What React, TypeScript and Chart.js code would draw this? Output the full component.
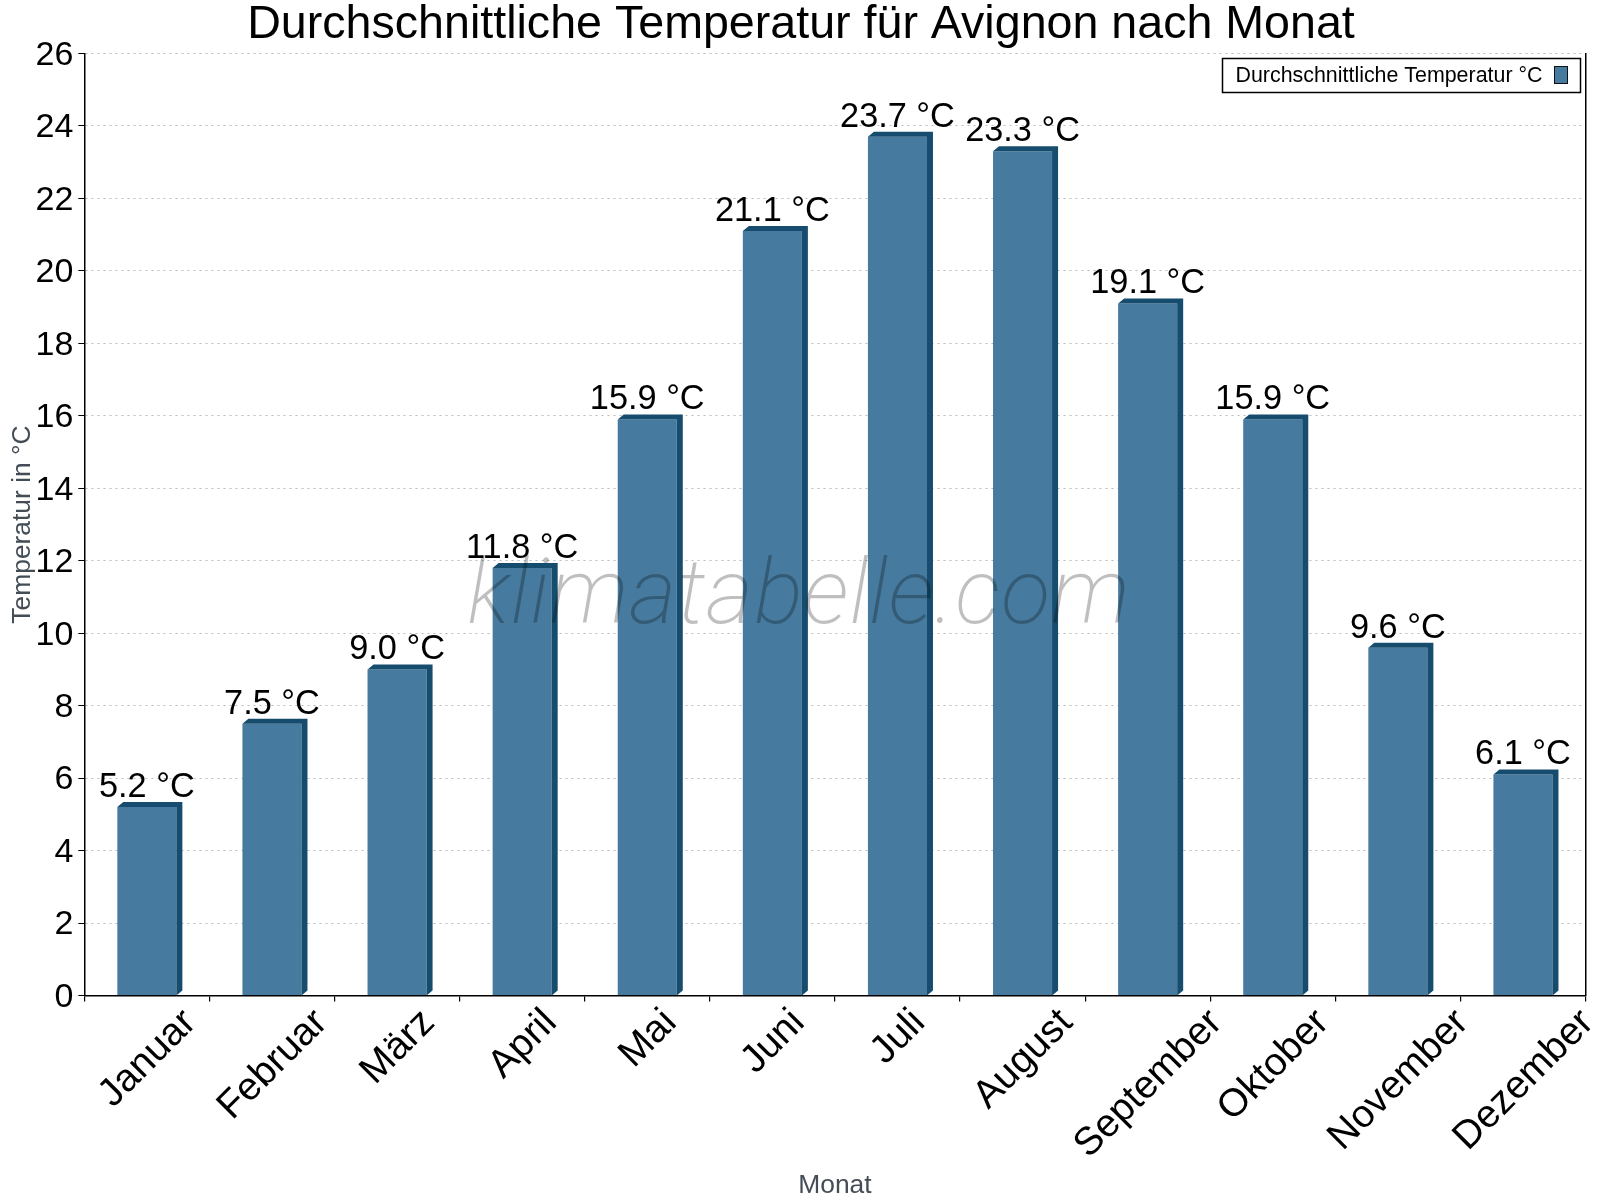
import { useEffect, useRef } from 'react';
import { Chart, registerables } from 'chart.js';

Chart.register(...registerables);

const months = ['Januar', 'Februar', 'März', 'April', 'Mai', 'Juni', 'Juli', 'August', 'September', 'Oktober', 'November', 'Dezember'];
const temperatures = [5.2, 7.5, 9.0, 11.8, 15.9, 21.1, 23.7, 23.3, 19.1, 15.9, 9.6, 6.1];
const seriesName = 'Durchschnittliche Temperatur °C';
const chartTitle = 'Durchschnittliche Temperatur für Avignon nach Monat';
const watermark = 'klimatabelle.com';

const FONT = '"Liberation Sans", Arial, sans-serif';
const FACE = '#467a9e';
const DARK = '#164c6e';
const DEPTH_X = 6;
const DEPTH_Y = 5;

// 3d sides of the bars, drawn after the bars themselves
const depthPlugin = {
  id: 'depth',
  afterDatasetsDraw(chart: any) {
    const { ctx } = chart;
    const base = chart.scales.y.getPixelForValue(0);
    ctx.save();
    ctx.fillStyle = DARK;
    chart.getDatasetMeta(0).data.forEach((bar: any) => {
      const left = bar.x - bar.width / 2;
      const right = bar.x + bar.width / 2;
      ctx.beginPath();
      ctx.moveTo(left, bar.y);
      ctx.lineTo(left + DEPTH_X, bar.y - DEPTH_Y);
      ctx.lineTo(right + DEPTH_X, bar.y - DEPTH_Y);
      ctx.lineTo(right + DEPTH_X, base - DEPTH_Y);
      ctx.lineTo(right, base);
      ctx.lineTo(right, bar.y);
      ctx.closePath();
      ctx.fill();
    });
    ctx.restore();
  },
};

const labelsPlugin = {
  id: 'labels',
  afterDraw(chart: any) {
    const { ctx, scales } = chart;
    ctx.save();
    ctx.textAlign = 'center';

    ctx.font = `46.6px ${FONT}`;
    ctx.fillStyle = '#000';
    ctx.textBaseline = 'alphabetic';
    ctx.fillText(chartTitle, 801, 38);

    // watermark goes over the bars
    ctx.font = `italic 200 91px Roboto, ${FONT}`;
    ctx.letterSpacing = '0.9px';
    ctx.fillStyle = 'rgba(0,0,0,0.25)';
    ctx.fillText(watermark, 799, 623);
    ctx.letterSpacing = '0px';

    // value labels
    ctx.font = `34.3px ${FONT}`;
    ctx.fillStyle = '#000';
    chart.getDatasetMeta(0).data.forEach((bar: any, i: number) => {
      ctx.fillText(`${temperatures[i].toFixed(1)} °C`, bar.x, bar.y - 10);
    });

    // month labels, centred under their category, top edge lined up
    ctx.font = `39px ${FONT}`;
    ctx.textBaseline = 'middle';
    months.forEach((m, i) => {
      const len = ctx.measureText(m).width;
      const cy = 1006 + ((len + 30) * Math.SQRT1_2) / 2;
      ctx.save();
      ctx.translate(scales.x.getPixelForValue(i) + 1, cy);
      ctx.rotate(-Math.PI / 4);
      ctx.fillText(m, 0, 0);
      ctx.restore();
    });

    // legend box: text first, swatch on the right
    ctx.fillStyle = '#fff';
    ctx.strokeStyle = '#000';
    ctx.lineWidth = 1.5;
    ctx.fillRect(1222.5, 58.5, 358, 34);
    ctx.strokeRect(1222.5, 58.5, 358, 34);
    ctx.fillStyle = '#000';
    ctx.font = `21.4px ${FONT}`;
    ctx.textAlign = 'left';
    ctx.textBaseline = 'alphabetic';
    ctx.fillText(seriesName, 1235.5, 82);
    ctx.fillStyle = FACE;
    ctx.strokeStyle = '#111';
    ctx.lineWidth = 1;
    ctx.fillRect(1554.5, 66.5, 13, 17);
    ctx.strokeRect(1554.5, 66.5, 13, 17);
    ctx.restore();
  },
};

export default function App() {
  const canvasRef = useRef<HTMLCanvasElement>(null);

  useEffect(() => {
    document.body.style.margin = '0';
    const ctx = canvasRef.current?.getContext('2d');
    if (!ctx) return;
    const chart = new Chart(ctx, {
      type: 'bar',
      data: {
        labels: months,
        datasets: [{ label: seriesName, data: temperatures, backgroundColor: FACE, barPercentage: 0.472, categoryPercentage: 1 }],
      },
      options: {
        animation: false,
        responsive: false,
        devicePixelRatio: 1,
        layout: { padding: { left: 7, right: 14.5, top: 53.5, bottom: 0 } },
        plugins: {
          title: { display: false },
          tooltip: { enabled: false },
          legend: { display: false },
        },
        scales: {
          x: {
            afterFit: (s: any) => { s.height = 204.5; },
            grid: { drawOnChartArea: false, color: '#000', tickLength: 6, lineWidth: 1.2 },
            border: { color: '#000', width: 1.5 },
            ticks: { display: false },
            title: { display: true, text: 'Monat', color: '#444c56', font: { family: FONT, size: 26.4 }, padding: { top: 0, bottom: -2 } },
          },
          y: {
            min: 0,
            max: 26,
            afterFit: (s: any) => { s.width = 77.3; },
            grid: { color: '#bbbbbb', lineWidth: 1, tickColor: '#000', tickLength: 6, tickBorderDash: [] },
            border: { color: '#000', width: 1.5, dash: [2, 4] },
            ticks: { stepSize: 2, color: '#000', padding: 5, labelOffset: 2, font: { family: FONT, size: 34 } },
            title: { display: true, text: 'Temperatur in °C', color: '#444c56', font: { family: FONT, size: 26.4 }, padding: 0 },
          },
          // only there for the closing line on the right of the plot
          right: {
            position: 'right',
            display: true,
            min: 0,
            max: 26,
            afterFit: (s: any) => { s.width = 0; },
            grid: { display: false },
            border: { display: true, color: '#000', width: 1.5 },
            ticks: { display: false },
          },
        },
      },
      plugins: [depthPlugin, labelsPlugin],
    });
    return () => chart.destroy();
  }, []);

  return <canvas ref={canvasRef} width={1600} height={1200} style={{ display: 'block' }} />;
}
